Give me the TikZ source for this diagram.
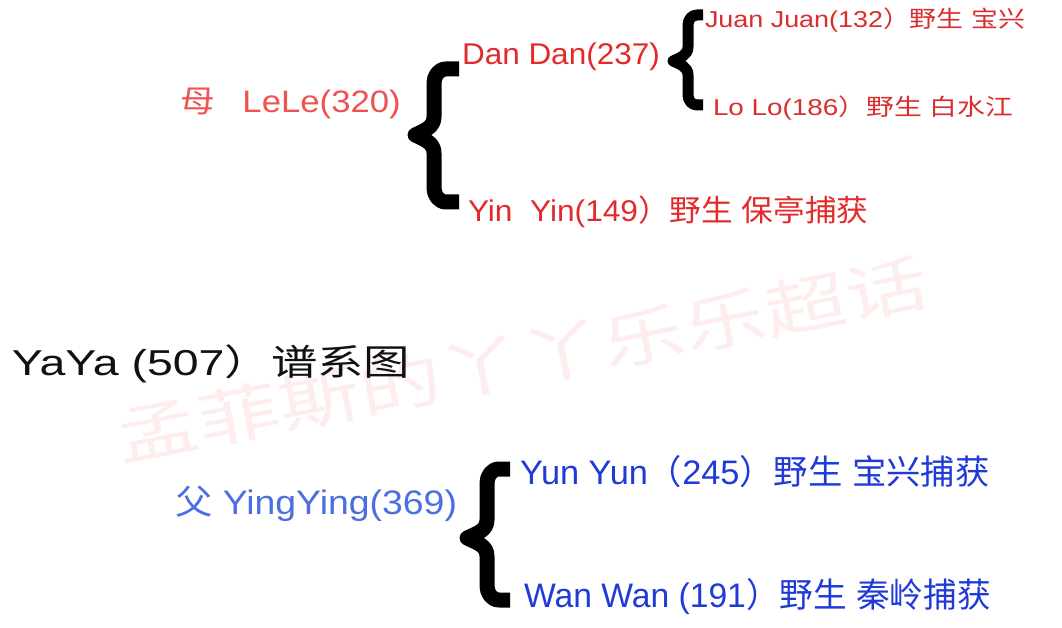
\documentclass[tikz,border=0pt]{standalone}
\usepackage{fontspec}
\usepackage{graphicx}
\setmainfont{Liberation Sans}
\newfontfamily\cjk{Noto Sans CJK SC}
\newcommand\hs[2]{\scalebox{#1}[1]{#2}}
\newcommand\fs[1]{\fontsize{#1}{#1}\selectfont}
\definecolor{redA}{HTML}{EE5252}
\definecolor{redB}{HTML}{E32A2A}
\definecolor{redC}{HTML}{D92E2E}
\definecolor{blueA}{HTML}{4B6FE0}
\definecolor{blueB}{HTML}{1F3AD8}
\definecolor{wmark}{HTML}{FDEDED}
\definecolor{ink}{HTML}{111111}
\tikzset{
  lbl/.style={anchor=base west, inner sep=0pt, outer sep=0pt},
  bracestroke/.style={draw=black, line width=#1, line join=round, line cap=butt},
}
\begin{document}
\begin{tikzpicture}[x=1pt,y=1pt]
\useasboundingbox (0,0) rectangle (1062,-628);
\fill[white] (0,0) rectangle (1062,-628);

% watermark
\node[inner sep=0pt, rotate=11, text=wmark] (wm) at (522,-360)
  {\fs{62}\cjk\hs{1.33}{孟菲斯的丫丫乐乐超话}};

% title
\node[lbl, text=ink] (title) at (12,-375)
  {\fs{36}\hs{1.29}{YaYa (507{\cjk ）谱系图}}};

% mother side
\node[lbl, text=redA] (mother) at (180,-113)
  {\fs{31}\hs{1.12}{{\cjk 母}\hspace{0.8em}LeLe(320)}};
\node[lbl, text=redB] (dandan) at (462,-65)
  {\fs{30}\hs{1.05}{Dan Dan(237)}};
\node[lbl, text=redB] (yinyin) at (468,-222)
  {\fs{30}\hs{1.055}{Yin\ \ Yin(149{\cjk ）野生} {\cjk 保亭捕获}}};
\node[lbl, text=redC] (juanjuan) at (705,-28)
  {\fs{23}\hs{1.17}{Juan Juan(132{\cjk ）野生} {\cjk 宝兴}}};
\node[lbl, text=redC] (lolo) at (713,-116)
  {\fs{23}\hs{1.21}{Lo Lo(186{\cjk ）野生} {\cjk 白水江}}};

% father side
\node[lbl, text=blueA] (father) at (175,-514)
  {\fs{34}\hs{1.1}{{\cjk 父} YingYing(369)}};
\node[lbl, text=blueB] (yunyun) at (520,-484)
  {\fs{34}\hs{1.01}{Yun Yun{\cjk （}245{\cjk ）野生} {\cjk 宝兴捕获}}};
\node[lbl, text=blueB] (wanwan) at (524,-607)
  {\fs{34}\hs{0.99}{Wan Wan (191{\cjk ）野生} {\cjk 秦岭捕获}}};

% brace 1: LeLe -> Dan Dan / Yin Yin
\coordinate (b1top) at (459,-69);
\coordinate (b1tip) at (415,-135);
\coordinate (b1bot) at (459,-202);
\draw[bracestroke=15pt]
  (b1top) -- (446,-69) to[out=180,in=90] (434,-83) -- (434,-117)
  to[out=-90,in=25] (b1tip) to[out=-25,in=90] (434,-153)
  -- (434,-188) to[out=-90,in=180] (446,-202) -- (b1bot);

% brace 2: Dan Dan -> Juan Juan / Lo Lo
\coordinate (b2top) at (703,-15);
\coordinate (b2tip) at (673,-61);
\coordinate (b2bot) at (703,-105);
\draw[bracestroke=11pt]
  (b2top) -- (697,-15) to[out=180,in=90] (688,-25) -- (688,-47)
  to[out=-90,in=25] (b2tip) to[out=-25,in=90] (688,-75)
  -- (688,-95) to[out=-90,in=180] (697,-105) -- (b2bot);

% brace 3: YingYing -> Yun Yun / Wan Wan
\coordinate (b3top) at (510,-469);
\coordinate (b3tip) at (467,-538);
\coordinate (b3bot) at (510,-600);
\draw[bracestroke=15pt]
  (b3top) -- (499,-469) to[out=180,in=90] (487,-483) -- (487,-520)
  to[out=-90,in=25] (b3tip) to[out=-25,in=90] (487,-556)
  -- (487,-586) to[out=-90,in=180] (499,-600) -- (b3bot);
\end{tikzpicture}
\end{document}
